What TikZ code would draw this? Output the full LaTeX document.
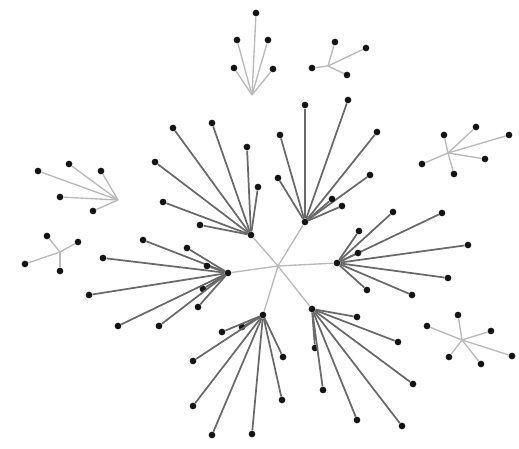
\documentclass[tikz,border=0pt]{standalone}
\usepackage{tikz}
\usetikzlibrary{positioning, backgrounds}
\definecolor{DotColor}  {RGB}{20,  20,  20}
\definecolor{EdgeColor} {RGB}{105, 105, 105}
\definecolor{FaintColor}{RGB}{185, 185, 185}

\begin{document}
\begin{tikzpicture}[
  x=0.75pt, y=-0.75pt,
  dot/.style = {
    circle, fill=DotColor, inner sep=0pt, minimum size=5pt
  },
  spoke/.style = {line width=1.3pt, color=EdgeColor},
  link/.style  = {line width=1pt, color=FaintColor},
  faint/.style = {line width=1pt, color=FaintColor}
]
\useasboundingbox (0,0) rectangle (519,449);

% Centro
\coordinate (center) at (278,266);

% Hubs
\node[dot] (top)   at (305,222) {};
\node[dot] (upl)   at (251,235) {};
\node[dot] (left)  at (228,273) {};
\node[dot] (right) at (337,263) {};
\node[dot] (lowr)  at (312,309) {};
\node[dot] (bot)   at (263,315) {};

\foreach \h in {top, upl, left, right, lowr, bot}
  \draw[link] (center) -- (\h);

% Ramo superior
\foreach \n/\x/\y in {t1/305/105, t2/348/100, t3/377/132, t4/370/175,
                      t5/342/206, t6/332/199, t7/280/135, t8/278/178}
{
  \node[dot] (\n) at (\x,\y) {};
  \draw[spoke] (top) -- (\n);
}

% Ramo superior esquerdo
\foreach \n/\x/\y in {u1/173/128, u2/212/123, u3/247/147, u4/155/162,
                      u5/258/187, u6/163/202, u7/200/225}
{
  \node[dot] (\n) at (\x,\y) {};
  \draw[spoke] (upl) -- (\n);
}

% Ramo esquerdo
\foreach \n/\x/\y in {l1/143/240, l2/187/248, l3/103/258, l4/207/266,
                      l5/89/295, l6/203/289, l7/198/307, l8/118/326,
                      l9/159/326}
{
  \node[dot] (\n) at (\x,\y) {};
  \draw[spoke] (left) -- (\n);
}

% Ramo direito
\foreach \n/\x/\y in {r1/393/212, r2/442/213, r3/359/231, r4/468/245,
                      r5/358/253, r6/448/278, r7/367/290, r8/412/295}
{
  \node[dot] (\n) at (\x,\y) {};
  \draw[spoke] (right) -- (\n);
}

% Ramo inferior direito
\foreach \n/\x/\y in {d1/357/317, d2/398/342, d3/315/348, d4/413/384,
                      d5/323/390, d6/357/420, d7/402/426}
{
  \node[dot] (\n) at (\x,\y) {};
  \draw[spoke] (lowr) -- (\n);
}

% Ramo inferior
\foreach \n/\x/\y in {b1/242/327, b2/222/332, b3/283/357, b4/193/361,
                      b5/282/400, b6/193/406, b7/212/435, b8/252/434}
{
  \node[dot] (\n) at (\x,\y) {};
  \draw[spoke] (bot) -- (\n);
}

% Grupos soltos
\coordinate (gtl) at (252,95);
\coordinate (gtr) at (328,66);
\coordinate (grc) at (448,153);
\coordinate (glc) at (118,200);
\coordinate (gll) at (60,252);
\coordinate (grl) at (462,340);

\foreach \g/\n/\x/\y in {gtl/a1/256/13, gtl/a2/237/40, gtl/a3/268/40,
                         gtl/a4/234/68, gtl/a5/273/69,
                         gtr/b1/335/42, gtr/b2/366/48, gtr/b3/312/68,
                         gtr/b4/347/75,
                         grc/c1/444/135, grc/c2/476/127, grc/c3/509/135,
                         grc/c4/422/164, grc/c5/485/159, grc/c6/454/174,
                         glc/e1/69/164, glc/e2/38/171, glc/e3/101/171,
                         glc/e4/60/197, glc/e5/93/211,
                         gll/f1/47/236, gll/f2/78/242, gll/f3/25/264,
                         gll/f4/60/271,
                         grl/g1/458/315, grl/g2/427/326, grl/g3/491/331,
                         grl/g4/449/357, grl/g5/481/364, grl/g6/512/356}
{
  \node[dot] (\n) at (\x,\y) {};
  \draw[faint] (\g) -- (\n);
}

\end{tikzpicture}
\end{document}
